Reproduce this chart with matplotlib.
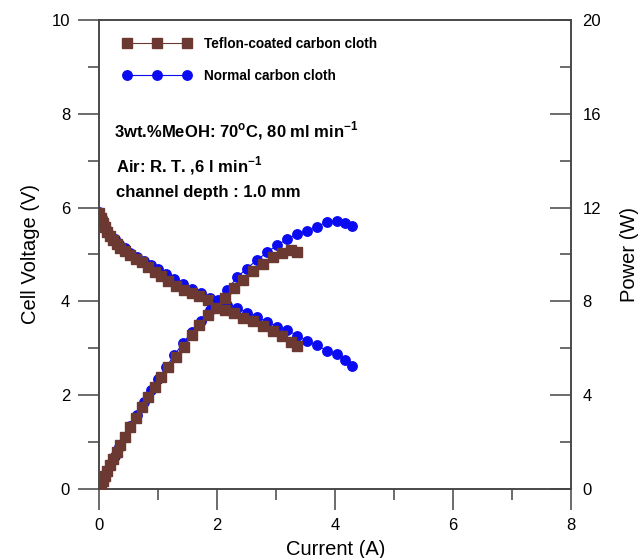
import matplotlib.pyplot as plt
from matplotlib.ticker import MultipleLocator

plt.rcParams['font.family'] = ['Liberation Sans', 'DejaVu Sans']

# Teflon-coated carbon cloth
teflon_current = [0.0, 0.03, 0.06, 0.10, 0.14, 0.19, 0.24, 0.30, 0.36, 0.44, 0.53, 0.62,
                  0.72, 0.83, 0.94, 1.05, 1.17, 1.30, 1.43, 1.57, 1.70, 1.84, 1.98, 2.13,
                  2.28, 2.44, 2.60, 2.77, 2.94, 3.10, 3.25, 3.35]
teflon_voltage = [5.88, 5.78, 5.68, 5.58, 5.48, 5.40, 5.31, 5.22, 5.14, 5.07, 4.99, 4.91,
                  4.83, 4.73, 4.62, 4.53, 4.43, 4.33, 4.24, 4.17, 4.11, 4.02, 3.90, 3.82,
                  3.75, 3.65, 3.57, 3.47, 3.37, 3.25, 3.14, 3.04]
teflon_power = [0.0, 0.17, 0.34, 0.56, 0.77, 1.03, 1.27, 1.57, 1.85, 2.23, 2.64, 3.04,
                3.48, 3.93, 4.34, 4.76, 5.18, 5.63, 6.06, 6.55, 6.99, 7.40, 7.72, 8.14,
                8.55, 8.90, 9.28, 9.61, 9.90, 10.07, 10.20, 10.12]

# Normal carbon cloth
normal_current = [0.0, 0.04, 0.08, 0.13, 0.19, 0.26, 0.34, 0.43, 0.53, 0.64, 0.76, 0.88,
                  1.00, 1.13, 1.27, 1.42, 1.57, 1.72, 1.87, 2.02, 2.17, 2.34, 2.50, 2.67,
                  2.85, 3.02, 3.19, 3.36, 3.53, 3.69, 3.86, 4.03, 4.17, 4.29]
normal_voltage = [5.90, 5.77, 5.65, 5.53, 5.42, 5.32, 5.22, 5.13, 5.04, 4.95, 4.86, 4.77,
                  4.68, 4.58, 4.48, 4.37, 4.27, 4.17, 4.08, 3.99, 3.92, 3.86, 3.76, 3.67,
                  3.56, 3.46, 3.38, 3.27, 3.15, 3.06, 2.95, 2.87, 2.75, 2.63]
normal_power = [0.0, 0.23, 0.45, 0.72, 1.03, 1.38, 1.77, 2.21, 2.67, 3.17, 3.69, 4.20,
                4.68, 5.18, 5.69, 6.21, 6.70, 7.17, 7.63, 8.06, 8.50, 9.03, 9.40, 9.75,
                10.10, 10.40, 10.66, 10.87, 11.00, 11.17, 11.40, 11.43, 11.34, 11.20]

brown = '#6b3832'
blue = '#0b0bf2'
spine_col = '#444444'

fig = plt.figure(figsize=(6.44, 5.58), dpi=100)
ax = fig.add_axes([0.154, 0.124, 0.733, 0.840])
ax2 = ax.twinx()

ax.plot(normal_current, normal_voltage, color=blue, lw=0.8, marker='o', ms=6.8,
        mec=blue, mfc=blue, label='Normal carbon cloth', zorder=2)
ax.plot(teflon_current, teflon_voltage, color=brown, lw=0.8, marker='s', ms=6.5,
        mec=brown, mfc=brown, label='Teflon-coated carbon cloth', zorder=3)
ax2.plot(normal_current, normal_power, color=blue, lw=0.8, marker='o', ms=6.8,
         mec=blue, mfc=blue, zorder=2)
ax2.plot(teflon_current, teflon_power, color=brown, lw=0.8, marker='s', ms=6.5,
         mec=brown, mfc=brown, zorder=3)

ax.set_xlim(0, 8)
ax.set_ylim(0, 10)
ax2.set_ylim(0, 20)

ax.xaxis.set_major_locator(MultipleLocator(2))
ax.xaxis.set_minor_locator(MultipleLocator(1))
ax.yaxis.set_major_locator(MultipleLocator(2))
ax.yaxis.set_minor_locator(MultipleLocator(1))
ax2.yaxis.set_major_locator(MultipleLocator(4))
ax2.yaxis.set_minor_locator(MultipleLocator(2))

ax.tick_params(which='both', direction='out', color=spine_col, width=1.1,
               labelsize=12, top=False, right=False)
ax.tick_params(which='major', length=15, pad=6)
ax.tick_params(which='minor', length=8)
ax2.tick_params(which='both', direction='in', color=spine_col, width=1.1, labelsize=12)
ax2.tick_params(which='major', length=15, pad=8)
ax2.tick_params(which='minor', length=8)

for a in (ax, ax2):
    for s in a.spines.values():
        s.set_color(spine_col)
        s.set_linewidth(1.1)

ax.set_xlabel('Current (A)', fontsize=14.5, labelpad=5)
ax.set_ylabel('Cell Voltage (V)', fontsize=14.5, labelpad=8)
ax2.set_ylabel('Power (W)', fontsize=14.5, labelpad=14)

handles, labels = ax.get_legend_handles_labels()
ax.legend(handles[::-1], labels[::-1], loc='upper left', bbox_to_anchor=(0.025, 0.99),
          frameon=False, numpoints=3, handlelength=5.0, handletextpad=0.9,
          labelspacing=1.3, prop={'size': 9.8, 'weight': 'bold'})

ax.text(0.032, 0.765, '3wt.%MeOH: 70$^{\\mathregular{o}}$C, 80 ml min$^{\\mathregular{-1}}$',
        transform=ax.transAxes, fontsize=12, fontweight='bold', va='center')
ax.text(0.035, 0.69, 'Air: R. T. ,6 l min$^{\\mathregular{-1}}$',
        transform=ax.transAxes, fontsize=12, fontweight='bold', va='center')
ax.text(0.035, 0.632, 'channel depth : 1.0 mm',
        transform=ax.transAxes, fontsize=12, fontweight='bold', va='center')

plt.savefig('out.png', dpi=100)
